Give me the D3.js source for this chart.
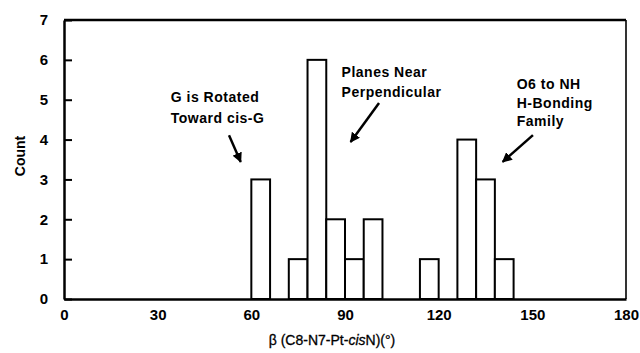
<!DOCTYPE html>
<html><head><meta charset="utf-8">
<script src="https://cdn.jsdelivr.net/npm/d3@7"></script>
<style>
body{margin:0;background:#fff;}
text{font-family:"Liberation Sans",Arial,Helvetica,sans-serif;fill:#000;}
</style></head>
<body>
<svg id="chart" width="640" height="353"></svg>
<script>
// Data
const binStarts = [60, 66, 72, 78, 84, 90, 96, 102, 108, 114, 120, 126, 132, 138];
const counts    = [3,  0,  1,  6,  2,  1,  2,  0,   0,   1,   0,   4,   3,   1];
const binWidth = 6;
const xTicks = [0, 30, 60, 90, 120, 150, 180];
const yTicks = [0, 1, 2, 3, 4, 5, 6, 7];
const annotationLines = [
  ["G is Rotated", "Toward cis-G"],
  ["Planes Near", "Perpendicular"],
  ["O6 to NH", "H-Bonding", "Family"]
];

const svg = d3.select("#chart");
const x = d3.scaleLinear().domain([0, 180]).range([64, 626]);
const y = d3.scaleLinear().domain([0, 7]).range([299, 20]);

// Bars
svg.append("g").selectAll("rect")
  .data(binStarts.map((s, i) => ({s, c: counts[i]})).filter(d => d.c > 0))
  .join("rect")
  .attr("x", d => x(d.s))
  .attr("y", d => y(d.c))
  .attr("width", d => x(d.s + binWidth) - x(d.s))
  .attr("height", d => y(0) - y(d.c))
  .attr("fill", "#fff")
  .attr("stroke", "#000")
  .attr("stroke-width", 2);

// Frame
svg.append("line").attr("x1", x(0)).attr("x2", x(180)).attr("y1", y(7)).attr("y2", y(7))
  .attr("stroke", "#000").attr("stroke-width", 2.5);
svg.append("line").attr("x1", x(180)).attr("x2", x(180)).attr("y1", y(7)).attr("y2", y(0))
  .attr("stroke", "#000").attr("stroke-width", 1.6);

// Y axis
const yAxis = d3.axisLeft(y).tickValues(yTicks).tickFormat(d3.format("d"))
  .tickSizeInner(-8).tickSizeOuter(0).tickPadding(16);
const gy = svg.append("g").attr("transform", `translate(${x(0)},0)`).call(yAxis);
gy.select(".domain").attr("stroke", "#000").attr("stroke-width", 2.5);
gy.selectAll(".tick line").attr("stroke", "#000").attr("stroke-width", 2);
gy.selectAll("text").attr("font-size", 15).attr("font-weight", "bold")
  .attr("font-family", "Liberation Sans, Arial, sans-serif");

// X axis
const xAxis = d3.axisBottom(x).tickValues(xTicks).tickFormat(d3.format("d"))
  .tickSize(0).tickPadding(10);
const gx = svg.append("g").attr("transform", `translate(0,${y(0)})`).call(xAxis);
gx.select(".domain").attr("stroke", "#000").attr("stroke-width", 2.5);
gx.selectAll("text").attr("font-size", 15).attr("font-weight", "bold")
  .attr("font-family", "Liberation Sans, Arial, sans-serif");

// Axis titles
svg.append("text").attr("transform", `translate(25,156) rotate(-90)`)
  .attr("text-anchor", "middle").attr("font-size", 14).attr("font-weight", "bold").text("Count");
const xt = svg.append("text").attr("x", 332).attr("y", 345)
  .attr("text-anchor", "middle").attr("font-size", 14).attr("stroke", "#000").attr("stroke-width", 0.3);
xt.append("tspan").text("β (C8-N7-Pt-");
xt.append("tspan").attr("font-style", "italic").text("cis");
xt.append("tspan").text("N)(°)");

// Annotations (data coordinates)
const annPos = [
  {tx: 34.2, ty: [4.95, 4.42], a: [52.85, 4.11, 56.6, 3.44]},
  {tx: 88.9, ty: [5.58, 5.07], a: [100.9, 4.92, 91.8, 3.94]},
  {tx: 145.0, ty: [5.27, 4.80, 4.33], a: [150.2, 4.11, 140.5, 3.44]}
];
svg.append("defs").append("marker").attr("id", "ah")
  .attr("viewBox", "0 0 10 10").attr("refX", 9).attr("refY", 5)
  .attr("markerWidth", 4).attr("markerHeight", 4).attr("orient", "auto")
  .append("path").attr("d", "M0,0 L10,5 L0,10 z").attr("fill", "#000");
annotationLines.forEach((lines, i) => {
  const p = annPos[i];
  lines.forEach((t, j) => {
    svg.append("text").attr("x", x(p.tx)).attr("y", y(p.ty[j]))
      .attr("font-size", 14).attr("font-weight", "bold")
      .attr("letter-spacing", 0.5).text(t);
  });
  svg.append("line")
    .attr("x1", x(p.a[0])).attr("y1", y(p.a[1]))
    .attr("x2", x(p.a[2])).attr("y2", y(p.a[3]))
    .attr("stroke", "#000").attr("stroke-width", 2.5)
    .attr("marker-end", "url(#ah)");
});
</script>
</body></html>
